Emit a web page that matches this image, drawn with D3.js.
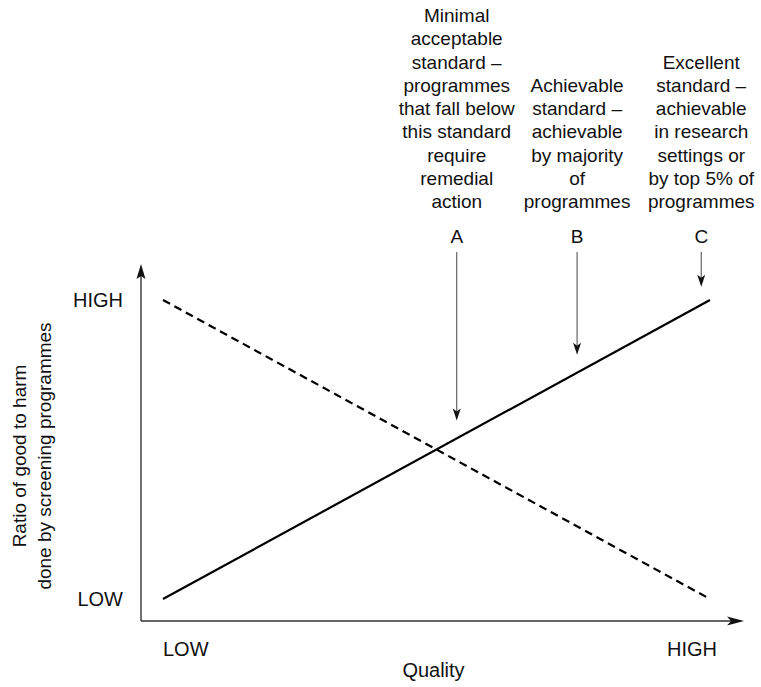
<!DOCTYPE html>
<html>
<head>
<meta charset="utf-8">
<script src="https://cdn.jsdelivr.net/npm/d3@7/dist/d3.min.js"></script>
<style>
  html, body { margin: 0; padding: 0; background: #fff; }
  svg { display: block; font-family: "Liberation Sans", Arial, Helvetica, sans-serif; }
</style>
</head>
<body>
<svg id="chart" width="761" height="687"></svg>
<script>
// Quality (0 = low, 1 = high) against ratio of good to harm (0 = low, 1 = high)
const quality = [0, 1];
const goodToHarm = [0, 1];        // solid line
const dashedTrend = [1, 0];       // dashed line

const xTickValues = [0, 1];
const xTickLabels = ["LOW", "HIGH"];
const yTickValues = [0, 1];
const yTickLabels = ["LOW", "HIGH"];

// Standards marked along the solid line
const standardKeys = ["A", "B", "C"];
const standardQuality = [0.537, 0.757, 0.984];
const standardText = [
  ["Minimal", "acceptable", "standard –", "programmes", "that fall below", "this standard", "require", "remedial", "action"],
  ["Achievable", "standard –", "achievable", "by majority", "of", "programmes"],
  ["Excellent", "standard –", "achievable", "in research", "settings or", "by top 5% of", "programmes"]
];

const xTitle = "Quality";
const yTitle = ["Ratio of good to harm", "done by screening programmes"];

const svg = d3.select("#chart");

const x = d3.scaleLinear().domain([0, 1]).range([163, 710]);
const y = d3.scaleLinear().domain([0, 1]).range([599, 300]);

const axisX = 141, axisY = 621, axisTop = 264, axisRight = 744;

// Axes with arrowheads
const axes = svg.append("g").attr("stroke", "#333").attr("stroke-width", 1.4);
axes.append("line").attr("x1", axisX).attr("y1", axisY).attr("x2", axisX).attr("y2", axisTop + 6);
axes.append("line").attr("x1", axisX).attr("y1", axisY).attr("x2", axisRight - 6).attr("y2", axisY);

svg.append("path")
  .attr("d", `M${axisX},${axisTop} L${axisX - 4.5},${axisTop + 15} L${axisX},${axisTop + 12} L${axisX + 4.5},${axisTop + 15} Z`)
  .attr("fill", "#111");
svg.append("path")
  .attr("d", `M${axisRight},${axisY} L${axisRight - 17},${axisY - 4.5} L${axisRight - 13},${axisY} L${axisRight - 17},${axisY + 4.5} Z`)
  .attr("fill", "#111");

// Tick labels
svg.append("g").selectAll("text")
  .data(yTickValues)
  .join("text")
  .attr("x", 123)
  .attr("y", d => y(d))
  .attr("dy", "0.36em")
  .attr("text-anchor", "end")
  .attr("font-size", 20)
  .attr("fill", "#111")
  .text((d, i) => yTickLabels[i]);

svg.append("g").selectAll("text")
  .data(xTickValues)
  .join("text")
  .attr("x", (d, i) => i === 0 ? x(d) : x(d) + 7)
  .attr("y", 656)
  .attr("text-anchor", (d, i) => i === 0 ? "start" : "end")
  .attr("font-size", 20)
  .attr("fill", "#111")
  .text((d, i) => xTickLabels[i]);

// Axis titles
svg.append("text")
  .attr("x", (x(0) + x(1)) / 2 - 3)
  .attr("y", 677)
  .attr("text-anchor", "middle")
  .attr("font-size", 20)
  .attr("fill", "#111")
  .text(xTitle);

svg.append("g")
  .attr("transform", "translate(0,456) rotate(-90)")
  .selectAll("text")
  .data(yTitle)
  .join("text")
  .attr("x", 0)
  .attr("y", (d, i) => 26 + i * 25)
  .attr("text-anchor", "middle")
  .attr("font-size", 19)
  .attr("fill", "#111")
  .text(d => d);

// Lines
const line = d3.line().x(d => x(d[0])).y(d => y(d[1]));

svg.append("path")
  .datum(quality.map((q, i) => [q, goodToHarm[i]]))
  .attr("d", line)
  .attr("fill", "none")
  .attr("stroke", "#000")
  .attr("stroke-width", 2.2);

svg.append("path")
  .datum(quality.map((q, i) => [q, dashedTrend[i]]))
  .attr("d", line)
  .attr("fill", "none")
  .attr("stroke", "#000")
  .attr("stroke-width", 2.2)
  .attr("stroke-dasharray", "8,5");

// Standard markers: description, letter and arrow down to the solid line
const solidAt = d3.scaleLinear().domain(quality).range(goodToHarm);
const lineH = 23.25, lastBaseline = 208;

const std = svg.append("g").selectAll("g")
  .data(standardKeys)
  .join("g");

std.each(function (key, i) {
  const g = d3.select(this);
  const cx = x(standardQuality[i]);
  const lines = standardText[i];

  g.append("text")
    .attr("text-anchor", "middle")
    .attr("font-size", 19)
    .attr("fill", "#111")
    .selectAll("tspan")
    .data(lines)
    .join("tspan")
    .attr("x", cx)
    .attr("y", (d, j) => lastBaseline - (lines.length - 1 - j) * lineH)
    .text(d => d);

  g.append("text")
    .attr("x", cx)
    .attr("y", 243)
    .attr("text-anchor", "middle")
    .attr("font-size", 19)
    .attr("fill", "#111")
    .text(key);

  const tip = y(solidAt(standardQuality[i])) - 18;
  g.append("line")
    .attr("x1", cx).attr("y1", 252)
    .attr("x2", cx).attr("y2", tip - 8)
    .attr("stroke", "#555")
    .attr("stroke-width", 1.1);
  g.append("path")
    .attr("d", `M${cx},${tip} L${cx - 4},${tip - 12} L${cx},${tip - 9} L${cx + 4},${tip - 12} Z`)
    .attr("fill", "#111");
});
</script>
</body>
</html>
